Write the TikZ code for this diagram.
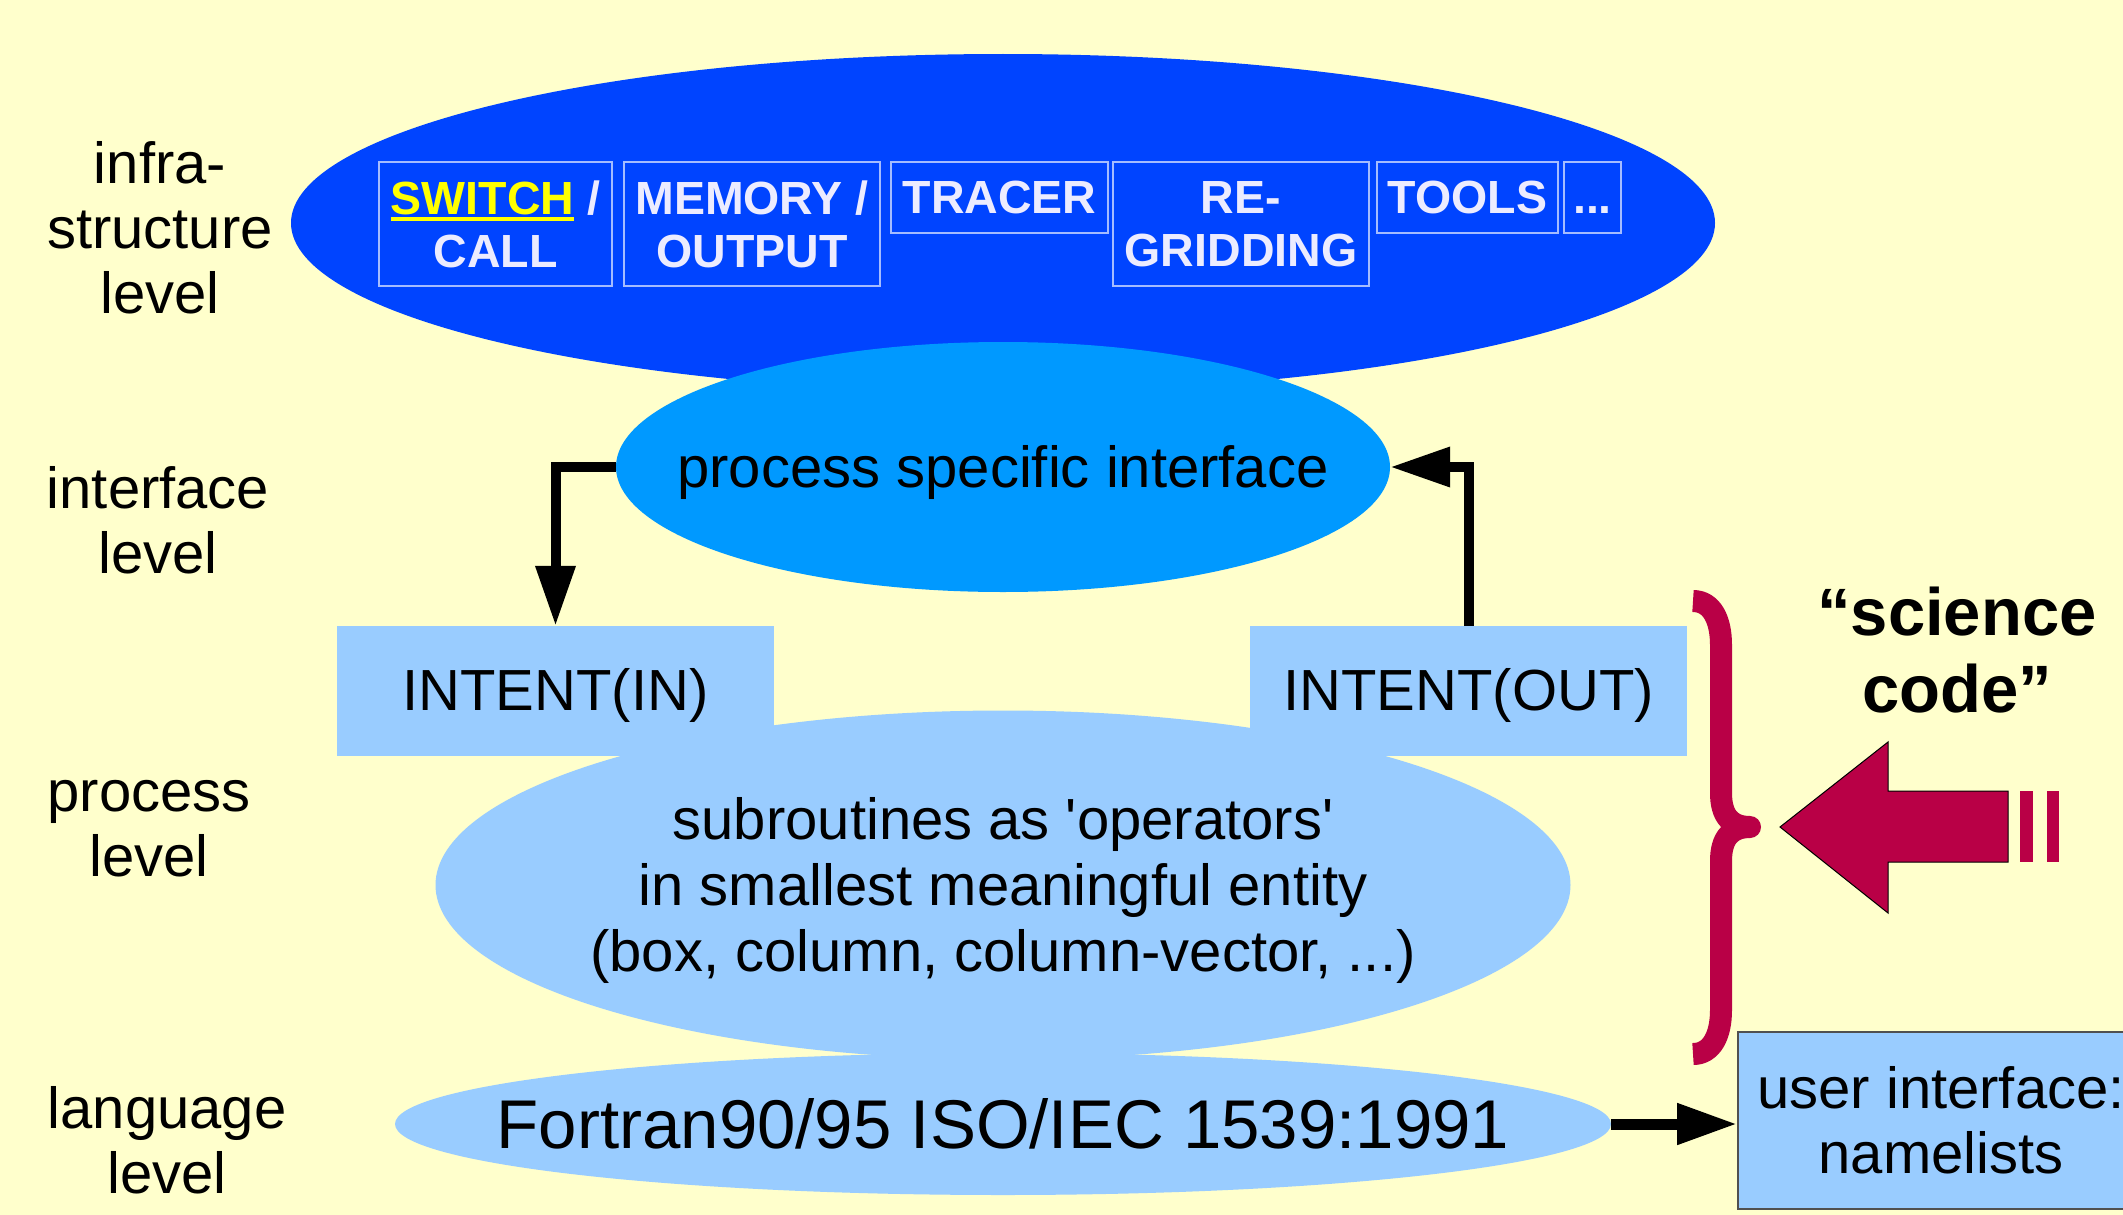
\documentclass[tikz,border=0pt]{standalone}
\usepackage{fontspec}
\setmainfont{Liberation Sans}
\usetikzlibrary{shapes.geometric,arrows.meta}

\definecolor{bgyellow}{HTML}{FFFFCC}
\definecolor{infrablue}{HTML}{0044FF}
\definecolor{ifaceblue}{HTML}{0099FF}
\definecolor{lightblue}{HTML}{99CCFF}
\definecolor{boxedge}{RGB}{165,188,255}
\definecolor{boxtext}{RGB}{236,236,255}
\definecolor{swyellow}{HTML}{FFFF00}
\definecolor{sciencered}{RGB}{185,0,70}
\definecolor{uiedge}{RGB}{80,80,80}

% yellow underlined keyword
\newcommand\swkey[1]{{\color{swyellow}\setbox0\hbox{#1}\rlap{\rule[-7pt]{\wd0}{4pt}}\box0}}

\begin{document}
\begin{tikzpicture}[x=1pt,y=-1pt,
  lvl/.style={align=center,inner sep=0,font=\fontsize{58}{65}\selectfont},
  blob/.style={ellipse,inner sep=0},
  blobtext/.style={align=center,inner sep=0,font=\fontsize{58}{66}\selectfont,yshift=-5pt},
  infrabox/.style={draw=boxedge,line width=1.5pt,inner sep=0,align=center,
    text=boxtext,font=\fontsize{46.5}{53}\selectfont\bfseries},
  intentbox/.style={fill=lightblue,inner sep=0,minimum width=437pt,minimum height=130pt,
    text height=42pt,text depth=4pt,font=\fontsize{58}{65}\selectfont},
  conn/.style={line width=10pt,-{Triangle[length=60pt,width=38pt]}},
]
\fill[bgyellow] (0,0) rectangle (2123,1215);
\clip (0,0) rectangle (2123,1215);

% infrastructure level
\node[blob,fill=infrablue,minimum width=1424pt,minimum height=338pt] (infra) at (1003,223) {};
\node[infrabox,minimum width=233pt,minimum height=124pt] (sw) at (495.5,224) {\swkey{SWITCH} /\\CALL};
\node[infrabox,minimum width=256pt,minimum height=124pt] (mem) at (752,224) {MEMORY /\\OUTPUT};
\node[infrabox,minimum width=217pt,minimum height=71pt] (tr) at (999.5,197.5) {TRACER};
\node[infrabox,minimum width=256pt,minimum height=124pt] (rg) at (1241,224) {RE-\\GRIDDING};
\node[infrabox,minimum width=181pt,minimum height=71pt] (tl) at (1467.5,197.5) {TOOLS};
\node[infrabox,minimum width=57pt,minimum height=71pt] (dt) at (1592.5,197.5) {\vphantom{T}...};

% interface level
\node[blob,fill=ifaceblue,minimum width=774pt,minimum height=250pt,
  label={[blobtext]center:process specific interface}] (iface) at (1003,467) {};

% process level
\node[blob,fill=lightblue,minimum width=1135pt,minimum height=349pt,
  label={[blobtext]center:subroutines as \textquotesingle operators\textquotesingle\\in smallest meaningful entity\\(box, column, column-vector, ...)}]
  (proc) at (1003,885) {};

% language level
\node[blob,fill=lightblue,minimum width=1216pt,minimum height=142pt,
  label={[blobtext,yshift=5pt,font=\fontsize{69}{75}\selectfont]center:Fortran90/95 ISO/IEC 1539:1991}]
  (lang) at (1003,1124) {};

\node[intentbox] (inin) at (555.5,691) {INTENT(IN)};
\node[intentbox] (inout) at (1468.5,691) {INTENT(OUT)};

% data flow
\draw[conn] (iface.west) -| (inin.north);
\draw[conn] (inout.north) |- (iface.east);

\node[fill=lightblue,draw=uiedge,line width=2pt,inner sep=0,minimum width=406pt,
  minimum height=177pt,align=center,font=\fontsize{58}{65}\selectfont] (ui) at (1941,1120.5)
  {user interface:\\namelists};
\draw[line width=11pt,-{Triangle[length=60pt,width=39pt]}] (lang.east) -- (lang.east -| ui.west);

% brace around the science code
\draw[sciencered,line width=22pt,line join=round,line cap=butt]
  (1693,601) .. controls (1712,601) and (1721,620) .. (1721,645)
  -- (1721,793) .. controls (1721,815) and (1730,827) .. (1750,827)
  .. controls (1730,827) and (1721,839) .. (1721,861)
  -- (1721,1010) .. controls (1721,1035) and (1712,1054) .. (1693,1054);

% fat arrow
\draw[fill=sciencered,draw=black,line width=1pt]
  (1780,827) -- (1888,742) -- (1888,791) -- (2008,791) -- (2008,862)
  -- (1888,862) -- (1888,913) -- cycle;
\fill[sciencered] (2020,791) rectangle (2033,862);
\fill[sciencered] (2047,791) rectangle (2059,862);

\node[align=center,inner sep=0,font=\fontsize{67}{77}\selectfont\bfseries] (sci) at (1957,650)
  {“science\\code”};

% level labels
\node[lvl] (l1) at (160,228) {infra-\\structure\\level};
\node[lvl] (l2) at (158,520) {interface\\level};
\node[lvl] (l3) at (149,829) {process\\level};
\node[lvl] (l4) at (167,1140) {language\\level};
\end{tikzpicture}
\end{document}
